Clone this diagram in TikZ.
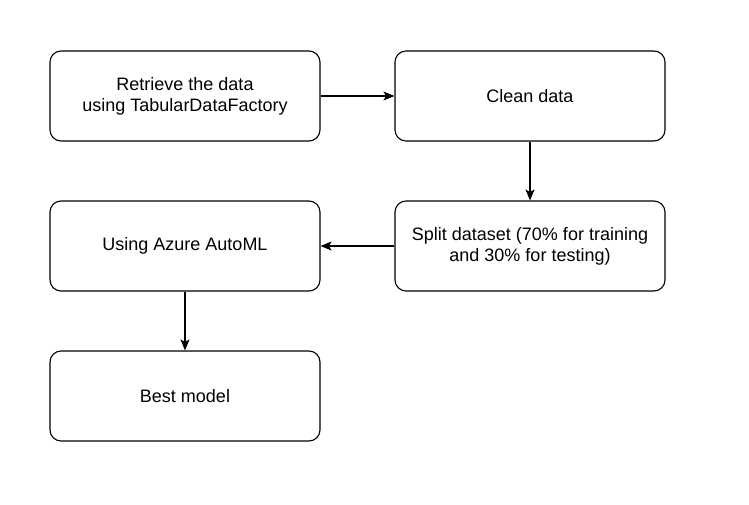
\documentclass[tikz,border=0pt]{standalone}
\usepackage{fontspec}
\setmainfont{Liberation Sans}
\usetikzlibrary{arrows.meta,positioning,shapes}

\begin{document}
\begin{tikzpicture}[x = 1pt, y = -1pt, stepbox/.style = {draw, rounded corners = 11pt, line width = 1.1pt, minimum width = 270pt, minimum height = 90pt, align = center, font = \fontsize{18pt}{21pt}\selectfont}, flow/.style = {-{Stealth[length=11pt,width=9pt,inset=2.5pt]}, line width = 1.1pt}]
\useasboundingbox (0,0) rectangle (749,505);
\node[stepbox] (retrieve) at (185,96) {Retrieve the data\\using TabularDataFactory};
\node[stepbox] (clean) at (530,96) {Clean data};
\node[stepbox] (split) at (530,246) {Split dataset (70\% for training\\and 30\% for testing)};
\node[stepbox] (automl) at (185,246) {Using Azure AutoML};
\node[stepbox] (best) at (185,396) {Best model};
\draw[flow] (retrieve) -- (clean);
\draw[flow] (clean) -- (split);
\draw[flow] (split) -- (automl);
\draw[flow] (automl) -- (best);
\end{tikzpicture}
\end{document}
